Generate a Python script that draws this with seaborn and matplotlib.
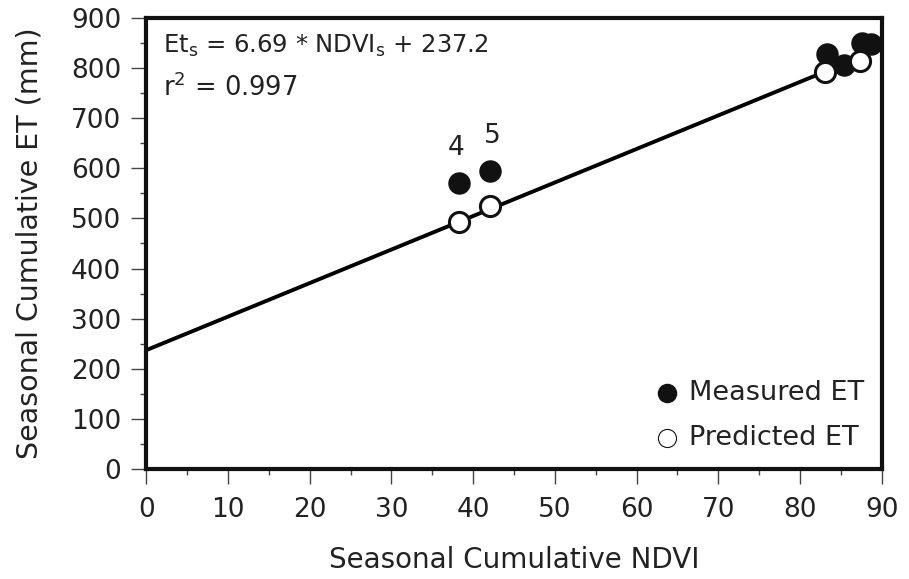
import matplotlib
matplotlib.use("Agg")
import matplotlib.pyplot as plt
from matplotlib.ticker import MultipleLocator
import numpy as np
import pandas as pd
import seaborn as sns

# data
ndvi = [38.3, 42.1, 83.3, 85.4, 87.6, 88.7]
measured_et = [570, 595, 828, 806, 850, 848]
pred_ndvi = [38.3, 42.1, 83.0, 87.4]
predicted_et = [492, 525, 792, 815]
slope, intercept = 6.69, 237.2
line_x = [0, 83]
labels = ["4", "5"]

sns.set_theme(style="white")
plt.rcParams['font.family'] = ['DejaVu Sans']

fig = plt.figure(figsize=(9.09, 5.79), dpi=100)
ax = fig.add_axes([0.161, 0.19, 0.809, 0.779])

line_df = pd.DataFrame({"x": line_x, "y": [slope * v + intercept for v in line_x]})
sns.lineplot(data=line_df, x="x", y="y", color="black", linewidth=2.8, ax=ax)

meas = pd.DataFrame({"x": ndvi, "y": measured_et})
pred = pd.DataFrame({"x": pred_ndvi, "y": predicted_et})
sns.scatterplot(data=meas, x="x", y="y", s=230, color="#111111", edgecolor="#111111",
                linewidth=1, ax=ax, label="Measured ET", zorder=3)
sns.scatterplot(data=pred, x="x", y="y", s=210, color="white", edgecolor="#111111",
                linewidth=2.2, ax=ax, label="Predicted ET", zorder=4)

offsets = [-0.4, 0.3]
for i, lab in enumerate(labels):
    ax.text(ndvi[i] + offsets[i], measured_et[i] + 70, lab, fontsize=19, ha="center",
            va="center", color="#222222")

ax.text(2.0, 845, r"Et$_{\mathregular{s}}$ = 6.69 * NDVI$_{\mathregular{s}}$ + 237.2",
        fontsize=17.5, va="center", color="#222222")
ax.text(2.0, 760, r"r$^{\mathregular{2}}$ = 0.997", fontsize=18.5, va="center",
        color="#222222")

ax.set_xlim(0, 90)
ax.set_ylim(0, 900)
ax.xaxis.set_major_locator(MultipleLocator(10))
ax.xaxis.set_minor_locator(MultipleLocator(5))
ax.yaxis.set_major_locator(MultipleLocator(100))
ax.yaxis.set_minor_locator(MultipleLocator(50))
ax.tick_params(axis="both", which="major", direction="out", length=11, width=1,
               labelsize=19, color="#444444", labelcolor="#222222",
               bottom=True, left=True)
ax.tick_params(axis="x", which="major", pad=9)
ax.tick_params(axis="y", which="major", pad=7)
ax.tick_params(axis="both", which="minor", direction="out", length=4, width=1,
               color="#444444", bottom=True, left=True)
for sp in ax.spines.values():
    sp.set_linewidth(3)
    sp.set_color("#111111")

ax.set_xlabel("Seasonal Cumulative NDVI", fontsize=20, labelpad=17, color="#222222")
ax.set_ylabel("Seasonal Cumulative ET (mm)", fontsize=20.5, labelpad=20, color="#222222")

leg = ax.legend(loc="lower right", frameon=False, fontsize=19.5, handletextpad=0.3,
                handlelength=1.0, borderaxespad=0.25, labelspacing=0.7)
for h in leg.legend_handles:
    h.set_sizes([170])
for h, lw in zip(leg.legend_handles, [1, 0.8]):
    h.set_linewidth(lw)
for t in leg.get_texts():
    t.set_color("#222222")

fig.savefig("out.png", dpi=100)
